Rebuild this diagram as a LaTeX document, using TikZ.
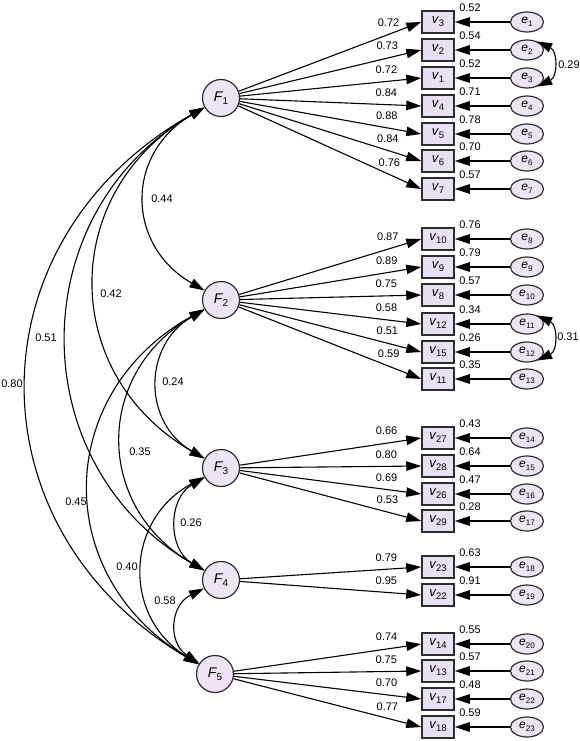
\documentclass[tikz,border=0pt]{standalone}
\usepackage{fontspec}
\setmainfont{Liberation Sans}
\usetikzlibrary{arrows.meta,shapes.geometric,calc}
\definecolor{lav}{RGB}{238,228,246}
\definecolor{boxlav}{RGB}{233,225,243}
\definecolor{edgegray}{RGB}{45,45,45}
\newcommand{\vlab}[1]{{\fontsize{13}{13}\selectfont\itshape v}\kern0.4pt\raisebox{-3pt}{\fontsize{9.5}{9.5}\selectfont #1}}
\newcommand{\elab}[1]{{\fontsize{12}{12}\selectfont\itshape e}\kern0.2pt\raisebox{-2.5pt}{\fontsize{8}{8}\selectfont #1}}
\newcommand{\flab}[1]{{\fontsize{14}{14}\selectfont\itshape F}\kern0.3pt\raisebox{-3.5pt}{\fontsize{10}{10}\selectfont #1}}
\begin{document}
\begin{tikzpicture}[x=1pt,y=1pt,
  fac/.style={circle,draw=edgegray,line width=1.2pt,fill=lav,minimum size=37pt,inner sep=0pt},
  obs/.style={rectangle,draw=edgegray,line width=1.5pt,fill=boxlav,minimum width=32pt,minimum height=22pt,inner sep=0pt},
  err/.style={ellipse,draw=edgegray,line width=1.2pt,fill=lav,minimum width=33pt,minimum height=20pt,inner sep=0pt},
  arr/.style={line width=1.1pt,-{Triangle[length=15pt,width=9.5pt]}},
  dbl/.style={line width=1.1pt,{Triangle[length=15pt,width=9.5pt]}-{Triangle[length=15pt,width=9.5pt]}},
  lab/.style={font=\fontsize{11}{12}\selectfont,inner sep=0pt},
]
\useasboundingbox (0,0) rectangle (579,-741);

% factors
\node[fac] (F1) at (221,-98)  {\flab{1}};
\node[fac] (F2) at (221,-300) {\flab{2}};
\node[fac] (F3) at (221,-468) {\flab{3}};
\node[fac] (F4) at (221,-580) {\flab{4}};
\node[fac] (F5) at (215,-674) {\flab{5}};

% indicators, errors, loadings
\foreach \f/\v/\y/\ld/\rs/\e in {
  1/3/22/0.72/0.52/1, 1/2/50/0.73/0.54/2, 1/1/78/0.72/0.52/3, 1/4/106/0.84/0.71/4,
  1/5/134/0.88/0.78/5, 1/6/161/0.84/0.70/6, 1/7/189/0.76/0.57/7,
  2/10/239/0.87/0.76/8, 2/9/267/0.89/0.79/9, 2/8/295/0.75/0.57/10,
  2/12/324/0.58/0.34/11, 2/15/352/0.51/0.26/12, 2/11/379/0.59/0.35/13,
  3/27/438/0.66/0.43/14, 3/28/466/0.80/0.64/15, 3/26/494/0.69/0.47/16, 3/29/521/0.53/0.28/17,
  4/23/567/0.79/0.63/18, 4/22/595/0.95/0.91/19,
  5/14/644/0.74/0.55/20, 5/13/671/0.75/0.57/21, 5/17/699/0.70/0.48/22, 5/18/727/0.77/0.59/23}
{
  \node[obs] (v\v) at (438,-\y) {\vlab{\v}};
  \node[err] (e\e) at (527,-\y) {\elab{\e}};
  \draw[arr] (e\e) -- (v\v);
  \draw[arr] (F\f) -- (v\v.west);
  \node[lab] at ($(v\v.west)!35pt!(F\f)+(0,12)$) {\ld};
  \node[lab] at ($(v\v.center)+(32,14)$) {\rs};
}

% error covariances
\draw[dbl] (e2.40) to[out=-25,in=25,looseness=1.3] (e3.-40);
\node[lab] at (569,-65) {0.29};
\draw[dbl] (e11.40) to[out=-25,in=25,looseness=1.3] (e12.-40);
\node[lab] at (568,-337) {0.31};

% factor covariances
\draw[dbl] (F1) to[bend right=60,looseness=1.28] (F2);
\draw[dbl] (F1) to[bend right=60,looseness=1.23] (F3);
\draw[dbl] (F1) to[bend right=60,looseness=1.17] (F4);
\draw[dbl] (F1) to[bend right=60,looseness=1.23] (F5);
\draw[dbl] (F2) to[bend right=60,looseness=1.23] (F3);
\draw[dbl] (F2) to[bend right=60,looseness=1.25] (F4);
\draw[dbl] (F2) to[bend right=60,looseness=1.24] (F5);
\draw[dbl] (F3) to[bend right=60,looseness=1.17] (F4);
\draw[dbl] (F3) to[bend right=60,looseness=1.23] (F5);
\draw[dbl] (F4) to[bend right=60,looseness=1.29] (F5);

\node[lab] at (162,-199) {0.44};
\node[lab] at (111,-294) {0.42};
\node[lab] at (46,-338)  {0.51};
\node[lab] at (12,-384)  {0.80};
\node[lab] at (173,-382) {0.24};
\node[lab] at (140,-452) {0.35};
\node[lab] at (76,-502)  {0.45};
\node[lab] at (191,-523) {0.26};
\node[lab] at (127,-567) {0.40};
\node[lab] at (165,-601) {0.58};
\end{tikzpicture}
\end{document}
